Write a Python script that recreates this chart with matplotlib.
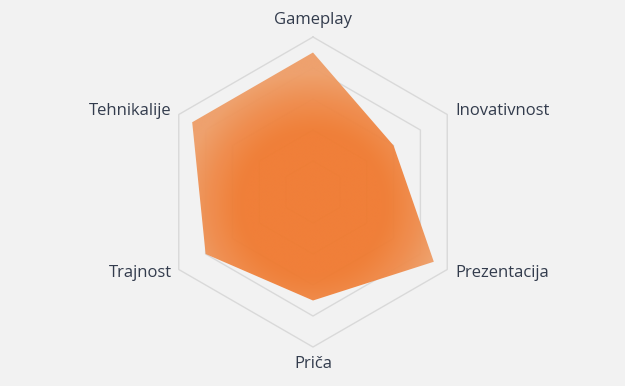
import numpy as np
import matplotlib.pyplot as plt
from matplotlib.path import Path
from matplotlib.patches import PathPatch
from matplotlib.colors import to_rgb

categories = ['Gameplay', 'Inovativnost', 'Prezentacija', 'Priča', 'Trajnost', 'Tehnikalije']
values = [9, 6, 9, 7, 8, 9]
rings = [2, 4, 6, 8, 10]
vmax = 10

# angles: start at top, go clockwise
n = len(categories)
ang = np.pi / 2 - np.arange(n) * 2 * np.pi / n

fig = plt.figure(figsize=(6.25, 3.86), dpi=100)
fig.patch.set_facecolor('#f2f2f2')
ax = fig.add_axes([0, 0, 1, 1])
ax.set_facecolor('#f2f2f2')
scale = 155 / vmax  # px per unit
ax.set_xlim(-313 / scale, 312 / scale)
ax.set_ylim(-(386 - 192) / scale, 192 / scale)
ax.axis('off')

# grid hexagons
for r in rings:
    xs = np.append(r * np.cos(ang), r * np.cos(ang[0]))
    ys = np.append(r * np.sin(ang), r * np.sin(ang[0]))
    ax.plot(xs, ys, color='#d9d9d9', lw=1, zorder=1)

# data polygon with radial gradient fill
px = np.array(values) * np.cos(ang)
py = np.array(values) * np.sin(ang)
verts = np.column_stack([px, py])
path = Path(np.vstack([verts, verts[:1]]), closed=True)
patch = PathPatch(path, facecolor='none', edgecolor='none')
ax.add_patch(patch)

gx, gy = np.meshgrid(np.linspace(-10, 10, 400), np.linspace(-10, 10, 400))
dist = np.hypot(gx, (gy + 0.8))
t = np.clip((dist - 4.5) / 4.0, 0, 1) ** 1.3
c0 = np.array(to_rgb('#f07a30'))
c1 = np.array(to_rgb('#ee9e68'))
img = np.zeros(gx.shape + (4,))
img[..., :3] = c0 * (1 - t[..., None]) + c1 * t[..., None]
img[..., 3] = 0.96
im = ax.imshow(img, extent=(-10, 10, -10, 10), origin='lower', zorder=2,
               interpolation='bilinear')
im.set_clip_path(patch)

# labels
lab_col = '#333c4d'
fs = 12
kw = dict(fontsize=fs, color=lab_col, family='Open Sans')
ax.text(0, 10.55, categories[0], ha='center', va='bottom', **kw)
ax.text((455 - 313) / scale, (192 - 111) / scale, categories[1], ha='left', va='center', **kw)
ax.text((455 - 313) / scale, (192 - 273) / scale, categories[2], ha='left', va='center', **kw)
ax.text(0, -10.55, categories[3], ha='center', va='top', **kw)
ax.text((172 - 313) / scale, (192 - 273) / scale, categories[4], ha='right', va='center', **kw)
ax.text((172 - 313) / scale, (192 - 111) / scale, categories[5], ha='right', va='center', **kw)

fig.savefig('out.png', dpi=100, facecolor=fig.get_facecolor())
